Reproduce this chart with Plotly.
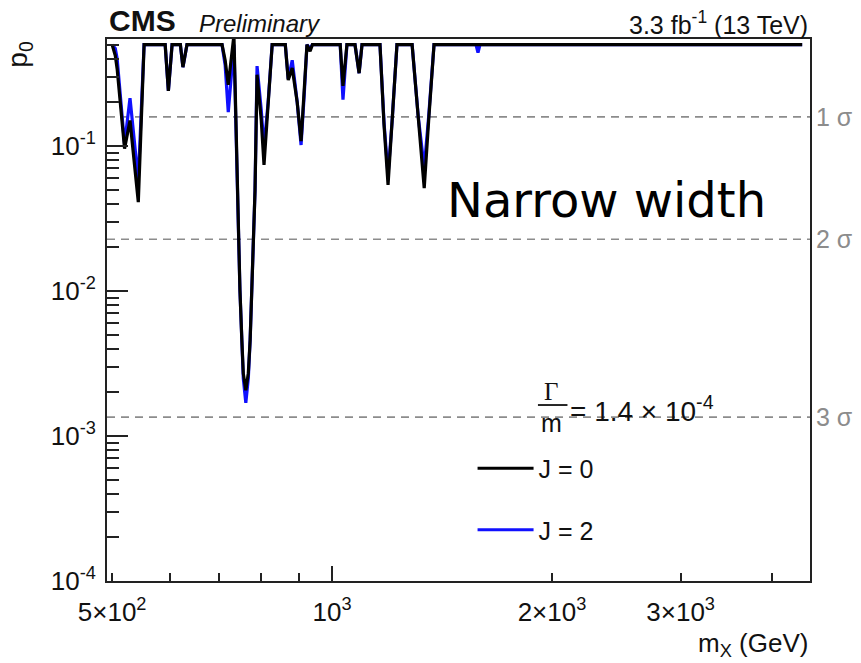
import math
import plotly.graph_objects as go

# Mass points (GeV) and local p-values for the two spin hypotheses
mass = [500, 505, 508, 520, 529, 543, 553, 591, 597, 604, 620, 625, 633, 707,
        714, 721, 734, 742, 748, 752.5, 756, 762, 768, 772.5, 776.5, 780.5,
        784.5, 789.5, 800, 807, 817.5, 828, 863, 871, 882, 896, 907, 916, 924,
        933, 940, 1026, 1035, 1048, 1075, 1089, 1099, 1163, 1178, 1193, 1208,
        1227, 1287, 1312, 1337, 1356, 1379, 1574, 1584, 1594, 4400]

p0_j0 = [0.5, 0.42, 0.34, 0.096, 0.15, 0.041, 0.5, 0.5, 0.24, 0.5, 0.5, 0.35,
         0.5, 0.5, 0.39, 0.264, 0.58, 0.0497, 0.0102, 0.0046, 0.0027, 0.00207,
         0.0027, 0.0046, 0.0102, 0.0225, 0.0497, 0.31, 0.151, 0.074, 0.2, 0.5,
         0.5, 0.285, 0.345, 0.2, 0.108, 0.225, 0.5, 0.45, 0.5, 0.5, 0.26, 0.5,
         0.5, 0.318, 0.5, 0.5, 0.14, 0.054, 0.14, 0.5, 0.5, 0.151, 0.0513,
         0.151, 0.5, 0.5, 0.5, 0.5, 0.5]

p0_j2 = [0.5, 0.47, 0.40, 0.103, 0.214, 0.058, 0.5, 0.5, 0.24, 0.5, 0.5, 0.35,
         0.5, 0.5, 0.36, 0.171, 0.5, 0.0497, 0.0102, 0.0046, 0.0025, 0.00169,
         0.0025, 0.0046, 0.0102, 0.0225, 0.0497, 0.356, 0.177, 0.097, 0.2, 0.5,
         0.5, 0.29, 0.39, 0.2, 0.1016, 0.225, 0.5, 0.47, 0.5, 0.5, 0.209, 0.5,
         0.5, 0.318, 0.5, 0.5, 0.145, 0.063, 0.145, 0.5, 0.5, 0.16, 0.0705,
         0.16, 0.5, 0.5, 0.44, 0.5, 0.5]

# Significance reference levels (one-sided p-values)
sigma_labels = ["1 σ", "2 σ", "3 σ"]
sigma_p = [0.1587, 0.02275, 0.00135]

x_tickvals = [500, 1000, 2000, 3000]
x_ticktext = ["5×10<sup>2</sup>", "10<sup>3</sup>", "2×10<sup>3</sup>", "3×10<sup>3</sup>"]
x_minor = [600, 700, 800, 900, 4000]
y_tickvals = [1e-4, 1e-3, 1e-2, 1e-1]
y_ticktext = ["10<sup>-4</sup>", "10<sup>-3</sup>", "10<sup>-2</sup>", "10<sup>-1</sup>"]

X_LO, X_HI = 492, 4510
Y_LO, Y_HI = 1e-4, 0.547

y_minor = [k * 10.0 ** e for e in range(-4, 0) for k in range(2, 10) if k * 10.0 ** e < Y_HI]

FONT = "Liberation Sans, Arial, Helvetica, sans-serif"
GRAY = "#8c8c8c"

fig = go.Figure()

for p in sigma_p:
    fig.add_trace(go.Scatter(x=[X_LO, X_HI], y=[p, p], mode="lines",
                             line=dict(color=GRAY, width=1.6, dash="8px,6px"),
                             showlegend=False, hoverinfo="skip"))

fig.add_trace(go.Scatter(x=mass, y=p0_j2, mode="lines", name="J = 2",
                         line=dict(color="#1010ff", width=3.2), legendrank=2,
                         legendgroup="j2"))
fig.add_trace(go.Scatter(x=mass, y=p0_j0, mode="lines", name="J = 0",
                         line=dict(color="#000000", width=3.2), legendrank=1,
                         legendgroup="j0"))

# helper axis carrying the longer major tick at 10^3
fig.add_trace(go.Scatter(x=[], y=[], xaxis="x2", showlegend=False))

lx = [math.log10(X_LO), math.log10(X_HI)]
ly = [math.log10(Y_LO), math.log10(Y_HI)]

fig.update_layout(
    width=861, height=663,
    margin=dict(l=107, r=51, t=39, b=82),
    paper_bgcolor="white", plot_bgcolor="white",
    font=dict(family=FONT, color="#111", size=24),
    xaxis=dict(type="log", range=lx, showgrid=False, zeroline=False,
               tickvals=x_tickvals, ticktext=x_ticktext,
               ticks="inside", ticklen=8, tickwidth=1.5, tickcolor="#222",
               tickfont=dict(size=26, family=FONT, color="#111"),
               ticklabelstandoff=7,
               showline=True, linecolor="#222", linewidth=2, mirror=True,
               minor=dict(tickvals=x_minor, ticks="inside", ticklen=8,
                          tickwidth=1.5, tickcolor="#222", showgrid=False)),
    xaxis2=dict(type="log", range=lx, overlaying="x", anchor="y", side="bottom",
                showgrid=False, zeroline=False, tickvals=[1000],
                ticks="inside", ticklen=15, tickwidth=1.5, tickcolor="#222",
                showticklabels=False, showline=False),
    yaxis=dict(type="log", range=ly, showgrid=False, zeroline=False,
               tickvals=y_tickvals, ticktext=y_ticktext,
               ticks="inside", ticklen=21, tickwidth=1.5, tickcolor="#222",
               tickfont=dict(size=26, family=FONT, color="#111"),
               ticklabelstandoff=4,
               showline=True, linecolor="#222", linewidth=2, mirror=True,
               minor=dict(tickvals=y_minor, ticks="inside", ticklen=12,
                          tickwidth=1.5, tickcolor="#222", showgrid=False)),
    legend=dict(x=0.52, y=0.25, xanchor="left", yanchor="top",
                bgcolor="rgba(0,0,0,0)", font=dict(size=25, family=FONT),
                tracegroupgap=26, itemwidth=56, traceorder="grouped"),
    showlegend=True,
)

for lab, p in zip(sigma_labels, sigma_p):
    fig.add_annotation(text=lab, xref="x domain", x=1, xanchor="left", xshift=4,
                       yref="y", y=math.log10(p), yanchor="middle",
                       showarrow=False, font=dict(size=25, color=GRAY, family=FONT))

ann = [
    dict(text="<b>CMS</b>", x=0, y=1, xanchor="left", yanchor="bottom", yshift=0,
         font=dict(size=30)),
    dict(text="<i>Preliminary</i>", x=0.128, y=1, xanchor="left", yanchor="bottom",
         yshift=0, font=dict(size=24)),
    dict(text="3.3 fb<sup>-1</sup> (13 TeV)", x=1, y=1, xanchor="right",
         yanchor="bottom", yshift=-2, font=dict(size=25)),
    dict(text="m<sub>X</sub> (GeV)", x=1, y=-0.118, xanchor="right",
         yanchor="middle", font=dict(size=26)),
    dict(text="p<sub>0</sub>", x=-0.125, y=1.0, xanchor="center", yanchor="top",
         textangle=-90, font=dict(size=28)),
    dict(text="Narrow width", x=0.71, y=0.703, xanchor="center", yanchor="middle",
         font=dict(size=48, family="DejaVu Sans, sans-serif", color="#000")),
    dict(text="Γ", x=0.632, y=0.349, xanchor="center", yanchor="middle",
         font=dict(size=25, family="Liberation Serif, Times New Roman, serif")),
    dict(text="m", x=0.632, y=0.2915, xanchor="center", yanchor="middle",
         font=dict(size=25)),
    dict(text="= 1.4 × 10<sup>-4</sup>", x=0.656, y=0.318, xanchor="left",
         yanchor="middle", font=dict(size=28)),
]
for a in ann:
    fig.add_annotation(xref="paper", yref="paper", showarrow=False, **a)

# fraction bar of Γ/m
fig.add_shape(type="line", xref="paper", yref="paper", x0=0.613, x1=0.655,
              y0=0.3247, y1=0.3247, line=dict(color="#111", width=1.8))

fig.write_html("out.html")
